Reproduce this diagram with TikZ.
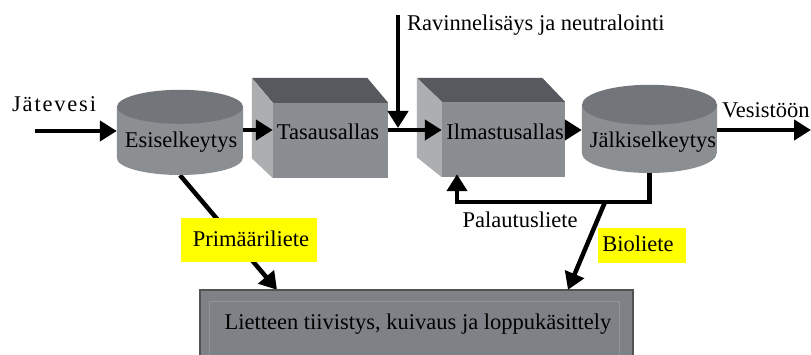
\documentclass[tikz,border=0pt]{standalone}
\usepackage{fontspec}
\setmainfont{Liberation Serif}
\newfontfamily\spacedfont[LetterSpace=8]{Liberation Serif}
\usetikzlibrary{arrows.meta,calc}
\definecolor{cylbody}{RGB}{140,143,146}
\definecolor{cyltop}{RGB}{114,118,122}
\definecolor{boxtop}{RGB}{86,90,94}
\definecolor{boxfront}{RGB}{138,141,145}
\definecolor{boxleft}{RGB}{172,174,176}
\definecolor{sludge}{RGB}{126,130,134}
\definecolor{sludgeline}{RGB}{80,82,84}
\definecolor{hl}{RGB}{255,255,0}
\begin{document}
\begin{tikzpicture}[x=1pt,y=-1pt,
  font=\fontsize{22.5}{26}\selectfont,
  flow/.style={line width=4.5pt,-{Triangle[length=17pt,width=20pt]}},
  plain/.style={line width=4.5pt},
  lbl/.style={inner sep=0pt,anchor=base},
  lblw/.style={inner sep=0pt,anchor=base west},
  frame/.style={inner sep=0pt,draw=none},
  front/.style={fill=boxfront},
  highlight/.style={fill=hl,inner sep=0pt,anchor=base},
]
\useasboundingbox (0,0) rectangle (811,355);
\fill[white] (0,0) rectangle (811,355);
\coordinate (lvl) at (0,130);

% --- frames of the shapes ---
\node[frame,minimum width=126pt,minimum height=85pt] (esi) at (180,132.5) {};
\node[frame,minimum width=115pt,minimum height=75pt] (tas) at (330.5,140.5) {};
\node[frame,minimum width=123pt,minimum height=75pt] (ilm) at (503.5,139.5) {};
\node[frame,minimum width=135pt,minimum height=88pt] (jal) at (649.5,129) {};
\node[frame,minimum width=433pt,minimum height=70pt] (sludgebox) at (416.5,325) {};

% --- lines behind shapes ---
\draw[flow] (esi.south) -- ($(sludgebox.north)+(-139.5,0)$);
\draw[plain] (jal.center) -- (jal.south);

% --- cylinder Esiselkeytys ---
\fill[cylbody] (esi.west |- 0,107) -- (esi.west |- 0,158)
  arc[start angle=180,end angle=360,x radius=63pt,y radius=17pt]
  -- (esi.east |- 0,107) -- cycle;
\fill[cyltop] (esi.north) ++(0,17) ellipse[x radius=63pt,y radius=17pt];

% --- cylinder Jalkiselkeytys ---
\fill[cylbody] (jal.west |- 0,105) -- (jal.west |- 0,153)
  arc[start angle=180,end angle=360,x radius=67.5pt,y radius=20pt]
  -- (jal.east |- 0,105) -- cycle;
\fill[cyltop] (jal.north) ++(0,20) ellipse[x radius=67.5pt,y radius=20pt];

% --- box Tasausallas ---
\fill[boxtop] (tas.north west) -- ++(-21,-25) -- ($(tas.north east)+(-21,-25)$) -- (tas.north east) -- cycle;
\fill[boxleft] (tas.north west) -- ++(-21,-25) -- ($(tas.south west)+(-21,-20)$) -- (tas.south west) -- cycle;
\fill[front] (tas.north west) rectangle (tas.south east);

% --- box Ilmastusallas ---
\fill[boxtop] (ilm.north west) -- ++(-25,-24) -- ($(ilm.north east)+(-23,-24)$) -- (ilm.north east) -- cycle;
\fill[boxleft] (ilm.north west) -- ++(-25,-24) -- ($(ilm.south west)+(-25,-20)$) -- (ilm.south west) -- cycle;
\fill[front] (ilm.north west) rectangle (ilm.south east);

% --- sludge treatment box ---
\filldraw[fill=sludge,draw=sludgeline,line width=1.5pt] (sludgebox.north west) rectangle (sludgebox.south east);
\draw[sludge!85!white,line width=0.8pt] ($(sludgebox.north west)+(10,12)$) rectangle ($(sludgebox.south east)+(-14,-4)$);

% --- connectors ---
\coordinate (inlet) at (35,131);
\coordinate (rtop) at (398,15);
\coordinate (outlet) at (811,130);
\coordinate (retcorner) at (457,202);
\coordinate (biostart) at (605,202);

\draw[flow] (inlet) -- (inlet -| esi.west);
\draw[flow] (esi.east |- lvl) -- (tas.west |- lvl);
\draw[flow] (tas.east |- lvl) -- (ilm.west |- lvl);
\draw[flow] (rtop) -- ($(rtop |- lvl)+(0,-2)$);
\draw[flow] (ilm.east |- lvl) -- (jal.west |- lvl);
\draw[flow] (jal.east |- lvl) -- (outlet);
\draw[flow] (jal.south) |- (retcorner) -- ($(retcorner |- ilm.south)+(0,-3)$);
\draw[flow] (biostart) -- ($(sludgebox.north)+(151.5,0)$);

% --- highlights ---
\node[highlight,text height=29pt,text depth=15pt,minimum width=136pt] (primhl) at (249,247) {};
\node[highlight,text height=24pt,text depth=11pt,minimum width=88pt] (biohl) at (641.5,252) {};

% --- labels ---
\node[lblw] (jatevesi) at (12,112) {\spacedfont J\"atevesi};
\node[lblw] (rav) at (407,31) {Ravinnelis\"ays ja neutralointi};
\node[lblw] (ves) at (722,118) {Vesist\"o\"on};
\node[lbl] (esitxt) at (181,148) {Esiselkeytys};
\node[lbl] (tastxt) at (328,140) {Tasausallas};
\node[lbl] (ilmtxt) at (505,140) {Ilmastusallas};
\node[lbl] (jaltxt) at (653,148) {J\"alkiselkeytys};
\node[lbl] (paltxt) at (520,228) {Palautusliete};
\node[lbl] (primtxt) at (251,247) {Prim\"a\"ariliete};
\node[lbl] (biotxt) at (638,252) {Bioliete};
\node[lbl] (sludgetxt) at (418,330) {Lietteen tiivistys, kuivaus ja loppuk\"asittely};
\end{tikzpicture}
\end{document}
